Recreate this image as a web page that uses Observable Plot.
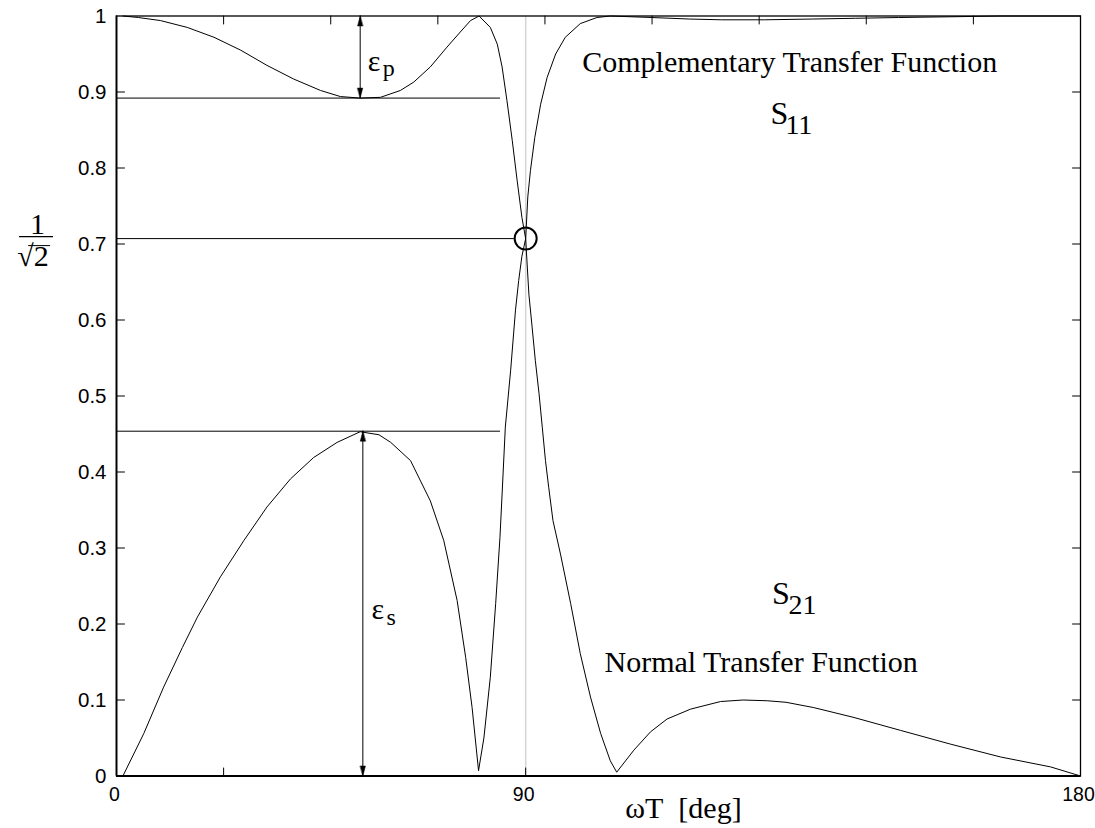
<!DOCTYPE html>
<html>
<head>
<meta charset="utf-8">
<script src="https://cdn.jsdelivr.net/npm/d3@7"></script>
<script src="https://cdn.jsdelivr.net/npm/@observablehq/plot@0.6"></script>
<style>
  html, body { margin: 0; padding: 0; background: #fff; }
  #chart svg { display: block; }
</style>
</head>
<body>
<div id="chart"></div>
<script>
// ωT in degrees along the axis, magnitudes of the two transfer functions
const s21X = [1.2, 5.1, 8.8, 12.3, 15.1, 19.4, 23.8, 28.1, 32.5, 36.8, 41.2, 45.5, 49.0, 51.2, 54.9, 58.6, 61.1, 63.6, 65.2, 66.4, 67.6, 68.6, 69.8, 70.8, 71.6, 72.0, 72.6, 73.6, 74.5, 75.1, 75.7, 76.4, 76.8, 77.3, 78.1, 79.2, 80.4, 82.0, 83.8, 86.6, 89.7, 92.2, 100, 107, 113, 121, 130, 138, 146, 156, 165, 180];
const s21Y = [0, 0.056, 0.117, 0.169, 0.209, 0.262, 0.31, 0.354, 0.391, 0.419, 0.439, 0.453, 0.449, 0.439, 0.415, 0.362, 0.31, 0.231, 0.156, 0.09, 0.007, 0.05, 0.13, 0.227, 0.314, 0.371, 0.459, 0.534, 0.613, 0.652, 0.684, 0.707, 0.762, 0.797, 0.84, 0.884, 0.919, 0.95, 0.972, 0.99, 0.998, 1.0, 0.998, 0.996, 0.995, 0.995, 0.996, 0.997, 0.998, 0.999, 1.0, 1.0];

const s11X = [1.2, 4.1, 8.2, 13.2, 18.2, 23.2, 28.1, 33.1, 38.1, 41.8, 45.5, 49.3, 53.0, 55.5, 58.6, 61.7, 64.2, 66.1, 67.7, 69.8, 71.1, 72.0, 72.9, 73.9, 74.8, 75.7, 76.4, 77.0, 77.6, 78.2, 78.9, 79.5, 80.1, 80.7, 81.5, 82.9, 84.8, 86.6, 88.5, 90.4, 92.2, 93.4, 96.6, 99.7, 102.8, 107.2, 112.8, 117, 121.5, 125, 130.2, 137.7, 146.4, 155.7, 165.1, 174.4, 180];
const s11Y = [1.0, 0.998, 0.994, 0.985, 0.972, 0.955, 0.935, 0.917, 0.902, 0.894, 0.892, 0.893, 0.902, 0.913, 0.933, 0.959, 0.979, 0.994, 1.0, 0.985, 0.963, 0.933, 0.889, 0.836, 0.784, 0.735, 0.707, 0.634, 0.591, 0.547, 0.503, 0.459, 0.415, 0.38, 0.336, 0.292, 0.227, 0.161, 0.104, 0.056, 0.02, 0.005, 0.034, 0.058, 0.075, 0.088, 0.098, 0.1, 0.099, 0.097, 0.09, 0.077, 0.06, 0.042, 0.025, 0.012, 0];

// Axis ticks and labels
const yTicks = [0, 0.1, 0.2, 0.3, 0.4, 0.5, 0.6, 0.7, 0.8, 0.9, 1];
const yTickLabels = ["0", "0.1", "0.2", "0.3", "0.4", "0.5", "0.6", "0.7", "0.8", "0.9", "1"];
const crossoverX = 76.4;                 // the 90° point, where both curves meet 1/√2
const xTickValues = [0, crossoverX, 180];
const xTickLabels = ["0", "90", "180"];
const topTicks = [20, 40, 60, 80, 100, 120, 140, 160];
const bottomTicks = [20, crossoverX];
const innerYTicks = [0.1, 0.2, 0.3, 0.4, 0.5, 0.6, 0.7, 0.8, 0.9];

// Reference levels
const passbandMin = 0.892;               // lowest |S11| in the passband  (ε_p)
const stopbandMax = 0.4537;              // highest |S21| in the stopband (ε_s)
const halfPower = Math.SQRT1_2;
const guideEnd = 71.7;
const rippleArrowX = 45.5;
const stopArrowX = 46.0;

const s21 = s21X.map((x, i) => ({x, y: s21Y[i]}));
const s11 = s11X.map((x, i) => ({x, y: s11Y[i]}));

const tickShape = {draw(ctx, l) { ctx.moveTo(0, 0); ctx.lineTo(0, -l); }};
const headShape = {draw(ctx, l) { ctx.moveTo(0, -l); ctx.lineTo(-2.6, 0); ctx.lineTo(2.6, 0); ctx.closePath(); }};

const serif = "Liberation Serif, Times New Roman, serif";
const sans = "Liberation Sans, Arial, Helvetica, sans-serif";

const note = (x, y, text, size, extra = {}) =>
  Plot.text([{x, y}], {x: "x", y: "y", text: () => text, fontFamily: serif, fontSize: size,
    textAnchor: "start", lineAnchor: "bottom", fill: "black", ...extra});

const chart = Plot.plot({
  width: 1095,
  height: 828,
  marginLeft: 116,
  marginRight: 15,
  marginTop: 15.5,
  marginBottom: 52.5,
  style: {background: "white", fontFamily: sans, overflow: "visible"},
  x: {domain: [0, 180], axis: null},
  y: {domain: [0, 1], axis: null},
  marks: [
    // vertical guide through the crossover
    Plot.ruleX([crossoverX], {stroke: "#d4d4d4", strokeWidth: 1.5}),

    // horizontal guide levels
    Plot.ruleY([passbandMin, stopbandMax], {x1: 0, x2: guideEnd, stroke: "black", strokeWidth: 1}),
    Plot.ruleY([halfPower], {x1: 0, x2: crossoverX - 2.1, stroke: "black", strokeWidth: 1}),

    // tolerance arrows
    Plot.ruleX([rippleArrowX], {y1: passbandMin, y2: 1, stroke: "black", strokeWidth: 1}),
    Plot.ruleX([stopArrowX], {y1: 0, y2: stopbandMax, stroke: "black", strokeWidth: 1}),
    Plot.vector([{x: rippleArrowX, y: 1, r: 0}, {x: rippleArrowX, y: passbandMin, r: 180},
                 {x: stopArrowX, y: stopbandMax, r: 0}, {x: stopArrowX, y: 0, r: 180}],
      {x: "x", y: "y", rotate: "r", length: 10, anchor: "end", shape: headShape,
       fill: "black", stroke: "black", strokeWidth: 0.5}),

    // the two magnitude responses
    Plot.line(s11, {x: "x", y: "y", stroke: "black", strokeWidth: 1}),
    Plot.line(s21, {x: "x", y: "y", stroke: "black", strokeWidth: 1}),

    // crossover marker
    Plot.dot([{x: crossoverX, y: halfPower}], {x: "x", y: "y", r: 11, stroke: "black", strokeWidth: 2, fill: "none"}),

    // box and inward ticks
    Plot.frame({stroke: "black", strokeWidth: 1.3}),
    Plot.ruleX([0], {stroke: "black", strokeWidth: 1.8}),
    Plot.ruleY([0], {stroke: "black", strokeWidth: 1.8}),
    Plot.vector(innerYTicks, {x: 0, y: d => d, rotate: 90, length: 8, anchor: "start", shape: tickShape, stroke: "black", strokeWidth: 1}),
    Plot.vector(innerYTicks, {x: 180, y: d => d, rotate: -90, length: 8, anchor: "start", shape: tickShape, stroke: "black", strokeWidth: 1}),
    Plot.vector(topTicks, {x: d => d, y: 1, rotate: 180, length: 8, anchor: "start", shape: tickShape, stroke: "black", strokeWidth: 1}),
    Plot.vector(bottomTicks, {x: d => d, y: 0, rotate: 0, length: 8, anchor: "start", shape: tickShape, stroke: "black", strokeWidth: 1}),

    // tick labels
    Plot.axisY(yTicks, {anchor: "left", tickSize: 0, tickPadding: 10, fontSize: 20.5, fontFamily: sans,
      tickFormat: d => yTickLabels[yTicks.indexOf(d)], label: null}),
    Plot.axisX(xTickValues, {anchor: "bottom", tickSize: 0, tickPadding: 11, fontSize: 19.5, fontFamily: sans,
      dx: -2, tickFormat: d => xTickLabels[xTickValues.indexOf(d)], label: null}),

    // annotations
    note(86.96, 0.926, "Complementary Transfer Function", 30),
    note(91.12, 0.1366, "Normal Transfer Function", 30),
    note(122.1, 0.858, "S", 32),
    note(124.9, 0.845, "11", 28),
    note(122.4, 0.2257, "S", 32),
    note(125.5, 0.2138, "21", 28),
    note(46.9, 0.928, "ε", 30),
    note(49.7, 0.921, "p", 24),
    note(47.6, 0.206, "ε", 30),
    note(50.4, 0.199, "s", 24),
    note(95.0, -0.0559, "ωT\u00a0\u00a0[deg]", 30),

    // 1/√2 level label on the left
    note(-14.75, 0.7138, "1", 30, {textAnchor: "middle"}),
    Plot.ruleY([halfPower], {x1: -18.1, x2: -11.76, dy: -2, stroke: "black", strokeWidth: 1.2}),
    note(-15.6, 0.6717, "√2", 30, {textAnchor: "middle"}),
    Plot.ruleY([halfPower], {x1: -16.4, x2: -12.3, dy: 7, stroke: "black", strokeWidth: 1})
  ]
});

document.getElementById("chart").appendChild(chart);
</script>
</body>
</html>
